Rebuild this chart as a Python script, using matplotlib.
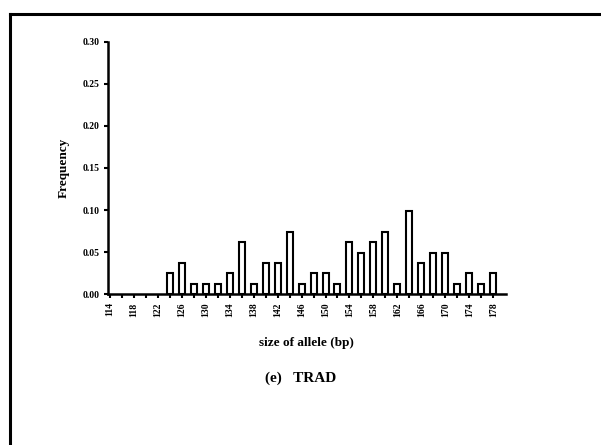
import matplotlib
matplotlib.use('Agg')
from matplotlib import pyplot as plt
from matplotlib.lines import Line2D

# allele sizes (bp) and their frequencies
alleles = [124, 126, 128, 130, 132, 134, 136, 138, 140, 142, 144, 146, 148, 150,
           152, 154, 156, 158, 160, 162, 164, 166, 168, 170, 172, 174, 176, 178]
freq = [0.025, 0.037, 0.012, 0.012, 0.012, 0.025, 0.062, 0.012, 0.037, 0.037,
        0.074, 0.012, 0.025, 0.025, 0.012, 0.062, 0.049, 0.062, 0.074, 0.012,
        0.099, 0.037, 0.049, 0.049, 0.012, 0.025, 0.012, 0.025]
tick_labels = list(range(114, 179, 4))
yticks = [0.00, 0.05, 0.10, 0.15, 0.20, 0.25, 0.30]

plt.rcParams['font.family'] = ['Liberation Serif', 'DejaVu Serif']
plt.rcParams['font.weight'] = 'bold'

fig = plt.figure(figsize=(6.01, 4.45), dpi=100)
ax = fig.add_axes([0.1797, 0.339, 0.662, 0.567])

ax.bar(alleles, freq, width=1.0, facecolor='white', edgecolor='black', linewidth=1.5)

ax.set_xlim(113.7, 180.1)
ax.set_ylim(0, 0.30)
ax.set_xticks(range(114, 179, 2), minor=True)
ax.set_xticks(tick_labels)
ax.set_xticklabels([str(t) for t in tick_labels], rotation=90, fontsize=7, fontweight='bold')
ax.set_yticks(yticks)
ax.set_yticklabels(['%.2f' % v for v in yticks], fontsize=7, fontweight='bold')
ax.tick_params(axis='both', which='both', direction='out', width=1.5, length=3, pad=3)

for side in ['top', 'right']:
    ax.spines[side].set_visible(False)
for side in ['left', 'bottom']:
    ax.spines[side].set_linewidth(1.8)

ax.set_xlabel('size of allele (bp)', fontsize=9.5, fontweight='bold', labelpad=14)
ax.set_ylabel('Frequency', fontsize=9.5, fontweight='bold', labelpad=9)

fig.text(0.5, 0.150, '(e)   TRAD', ha='center', va='center', fontsize=11, fontweight='bold')

# border of the scanned page
fig.add_artist(Line2D([0.0166, 1.0], [0.9685, 0.9685], color='black', linewidth=2.2))
fig.add_artist(Line2D([0.0166, 0.0166], [0.0, 0.9685], color='black', linewidth=2.2))

fig.savefig('out.png', dpi=100)
